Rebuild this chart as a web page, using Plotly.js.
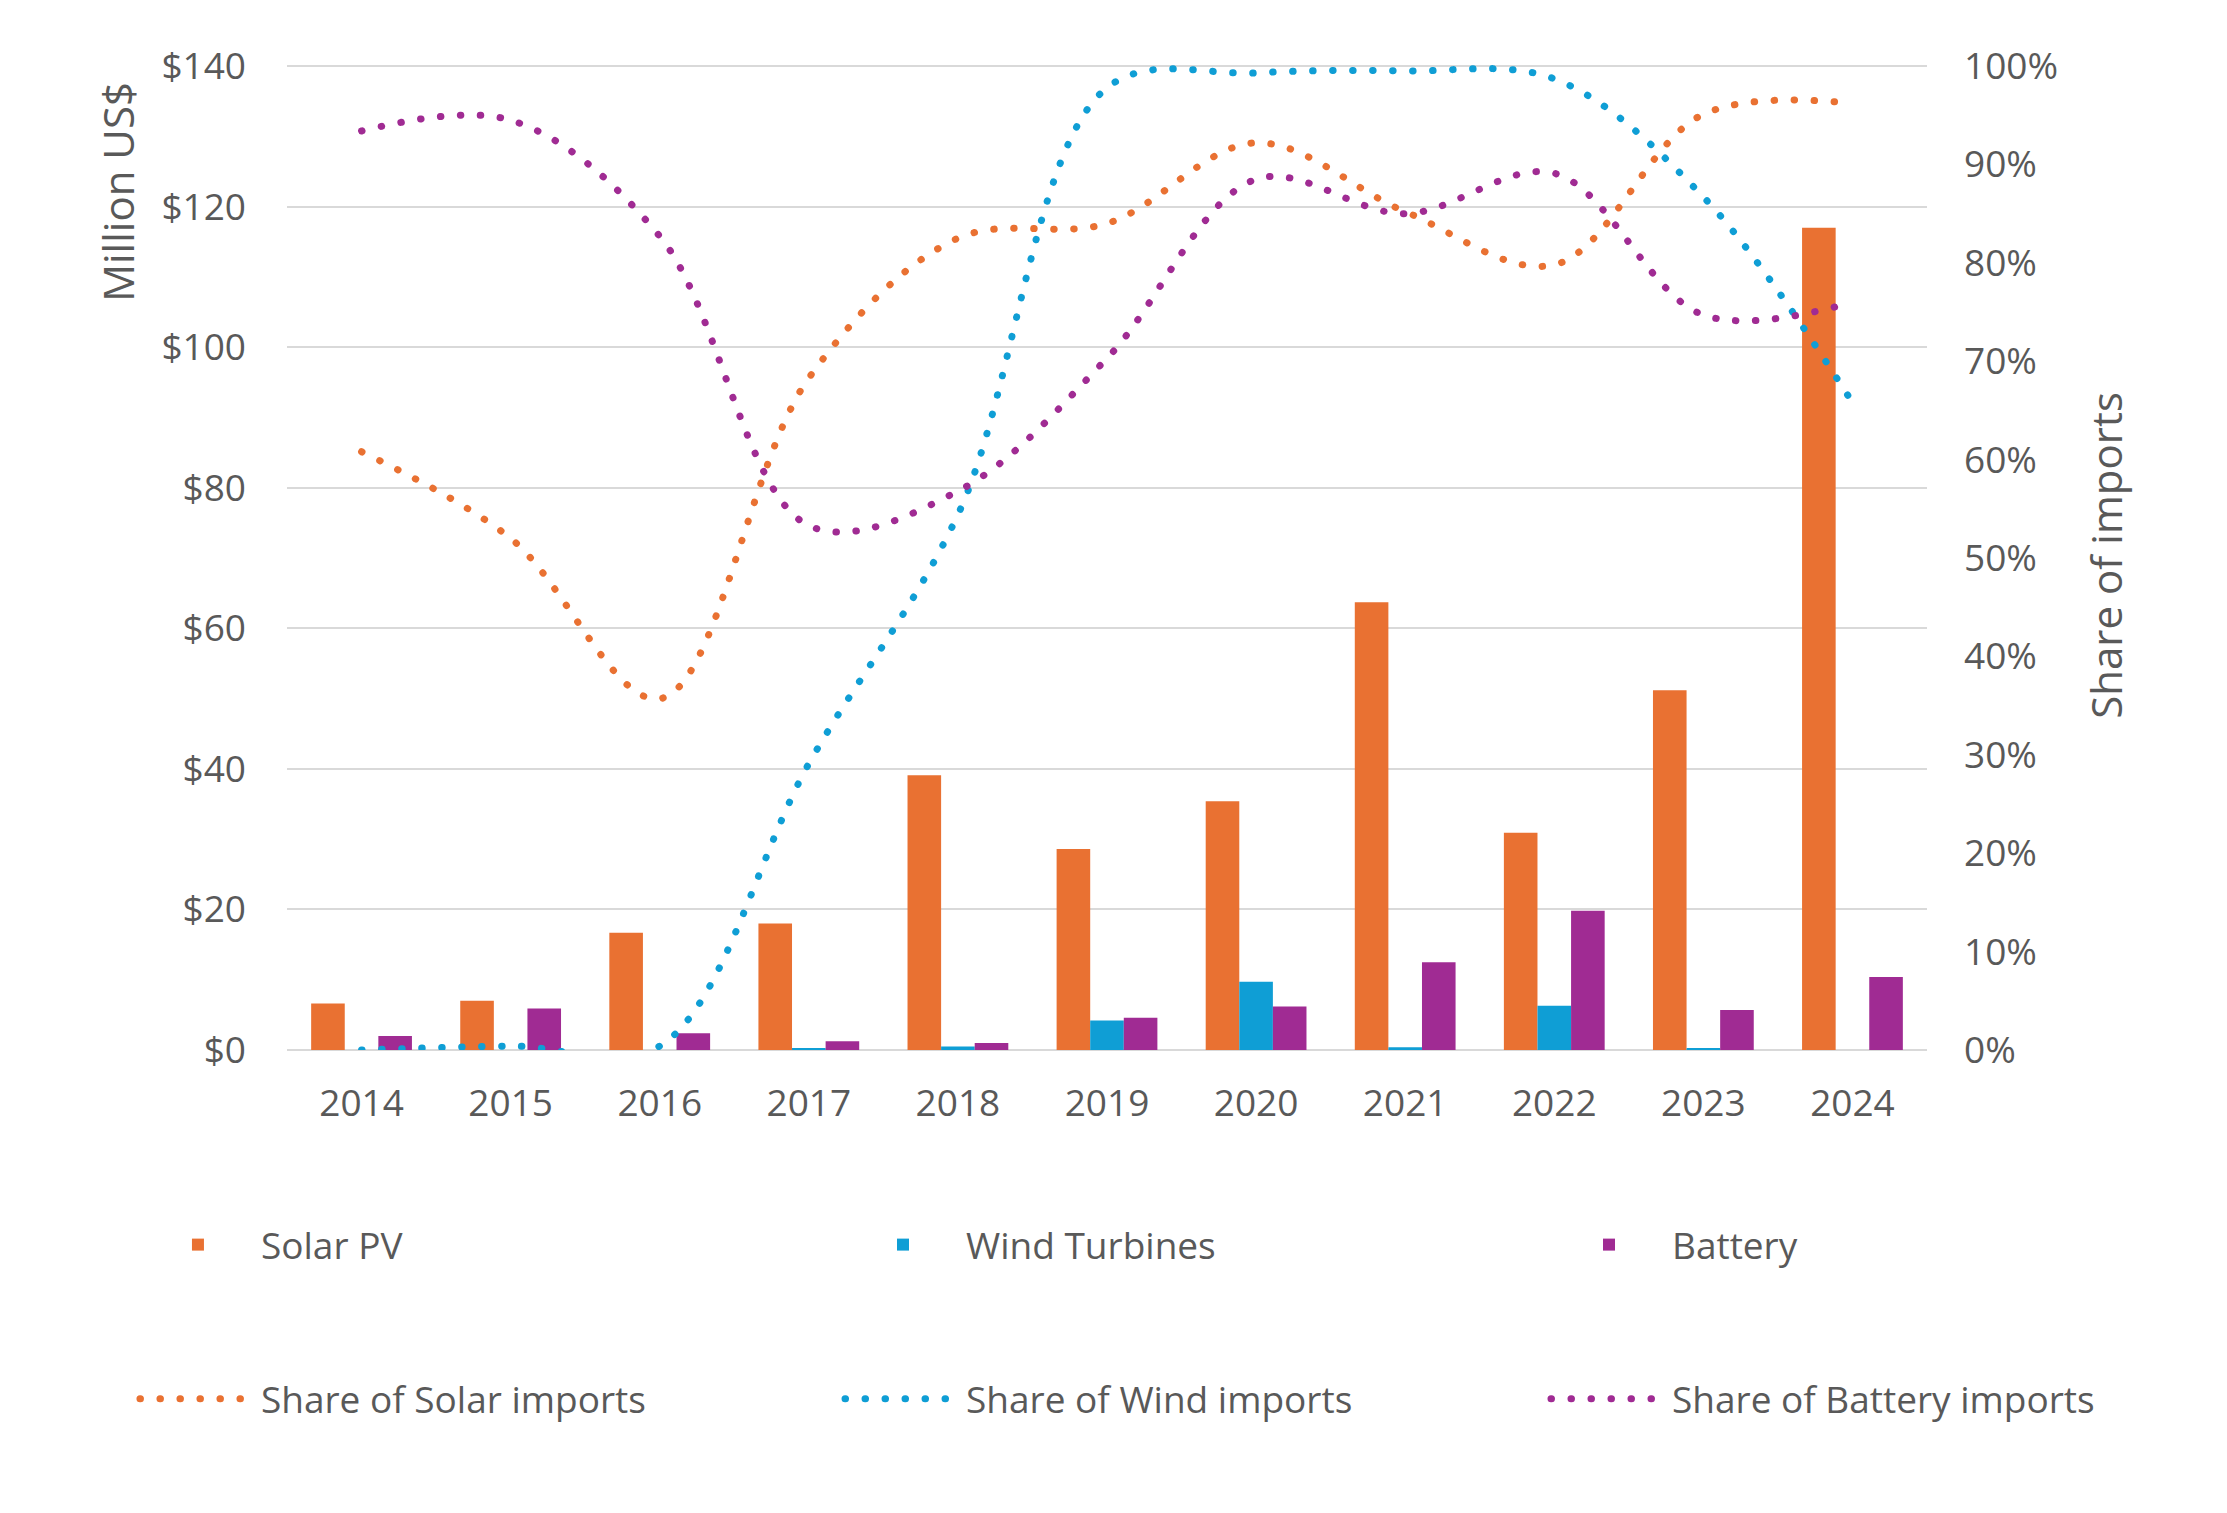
<!DOCTYPE html>
<html>
<head>
<meta charset="utf-8">
<script src="https://cdn.plot.ly/plotly-3.0.1.min.js"></script>
<style>
  html, body { margin: 0; padding: 0; background: #fff; }
  #chart { width: 2227px; height: 1513px; outline: 3px solid #d9d9d9; outline-offset: -3px; }
  #chart .js-line { stroke-linecap: round; }
</style>
</head>
<body>
<div id="chart"></div>
<script>
// ── Données ───────────────────────────────────────────
const years        = ['2014', '2015', '2016', '2017', '2018', '2019', '2020', '2021', '2022', '2023', '2024'];
const solarPV      = [6.6, 7.0, 16.7, 18.0, 39.1, 28.6, 35.4, 63.7, 30.9, 51.2, 117.0];
const windTurbines = [0, 0, 0, 0.3, 0.5, 4.2, 9.7, 0.4, 6.3, 0.3, 0];
const battery      = [2.0, 5.9, 2.4, 1.25, 1.0, 4.6, 6.2, 12.5, 19.8, 5.7, 10.4];

const solarShare   = [0.608, 0.52, 0.357, 0.683, 0.825, 0.84, 0.922, 0.852, 0.798, 0.951, 0.962];
const windShare    = [0.0, 0.004, 0.004, 0.291, 0.544, 0.978, 0.993, 0.995, 0.987, 0.867, 0.658];
const batteryShare = [0.934, 0.945, 0.827, 0.533, 0.568, 0.703, 0.885, 0.850, 0.891, 0.747, 0.760];

const leftTicks   = [0, 20, 40, 60, 80, 100, 120, 140];
const leftLabels  = ['$0', '$20', '$40', '$60', '$80', '$100', '$120', '$140'];
const rightTicks  = [0, .1, .2, .3, .4, .5, .6, .7, .8, .9, 1];

// ── Styles ────────────────────────────────────────────
const ORANGE = '#E97132', BLUE = '#0F9ED5', PURPLE = '#A02B93';
const GREY = '#595959', GRID = '#D9D9D9';
const FONT  = { family: 'Open Sans, Liberation Sans, sans-serif', size: 37, color: GREY };
const TFONT = { ...FONT, size: 42 };

// un peu de marge au-dessus de 140 / 100 % pour ne pas couper la spline
const TOP = 142;

function bar(name, y, color, legend) {
  return {
    type: 'bar', name, x: years, y, marker: { color },
    legend, legendgroup: name, hoverinfo: 'skip',
  };
}

function share(name, y, color, legend) {
  return {
    type: 'scatter', mode: 'lines', name, x: years, y, yaxis: 'y2',
    legend, legendgroup: name,
    line: { color, width: 7, dash: '0.5px,19.5px', shape: 'spline', smoothing: 1 },
    hoverinfo: 'skip',
  };
}

const traces = [
  bar('Solar PV', solarPV, ORANGE, 'legend'),
  bar('Wind Turbines', windTurbines, BLUE, 'legend2'),
  bar('Battery', battery, PURPLE, 'legend3'),
  share('Share of Solar imports', solarShare, ORANGE, 'legend'),
  share('Share of Wind imports', windShare, BLUE, 'legend2'),
  share('Share of Battery imports', batteryShare, PURPLE, 'legend3'),
];

// une légende par colonne : barre en haut, ligne en bas
const LEGEND = {
  orientation: 'v', xref: 'container', yref: 'container',
  xanchor: 'left', yanchor: 'middle', y: 0.1262,
  itemwidth: 116, tracegroupgap: 103, traceorder: 'grouped',
  font: FONT, bgcolor: 'rgba(0,0,0,0)',
};

function axisTitle(text, x, y) {
  return {
    text, textangle: -90, xref: 'paper', yref: 'paper', x, y,
    xanchor: 'center', yanchor: 'middle', showarrow: false, font: TFONT,
  };
}

const layout = {
  width: 2227, height: 1513,
  margin: { l: 287, r: 300, t: 52, b: 463, autoexpand: false },
  paper_bgcolor: '#fff', plot_bgcolor: '#fff',
  font: FONT,
  barmode: 'group', bargap: 0.324, bargroupgap: 0,
  xaxis: {
    type: 'category', showgrid: false, zeroline: false, showline: false,
    ticks: '', ticklabelstandoff: 28, tickangle: 0, tickfont: FONT,
  },
  yaxis: {
    range: [0, TOP], tickvals: leftTicks, ticktext: leftLabels, ticks: '',
    showgrid: true, gridcolor: GRID, gridwidth: 2,
    zeroline: true, zerolinecolor: GRID, zerolinewidth: 2,
    ticklabelstandoff: 40, tickfont: FONT,
  },
  yaxis2: {
    overlaying: 'y', side: 'right', range: [0, TOP / 140], tickvals: rightTicks,
    tickformat: '.0%', showgrid: false, zeroline: false, ticks: '',
    ticklabelstandoff: 36, tickfont: FONT,
  },
  legend:  { ...LEGEND, x: 0.0606 },
  legend2: { ...LEGEND, x: 0.3772 },
  legend3: { ...LEGEND, x: 0.6942 },
  annotations: [
    axisTitle('Million US$', -0.103, 0.860),
    axisTitle('Share of imports', 1.109, 0.496),
  ],
};

Plotly.newPlot('chart', traces, layout, { displayModeBar: false, staticPlot: true });
</script>
</body>
</html>
